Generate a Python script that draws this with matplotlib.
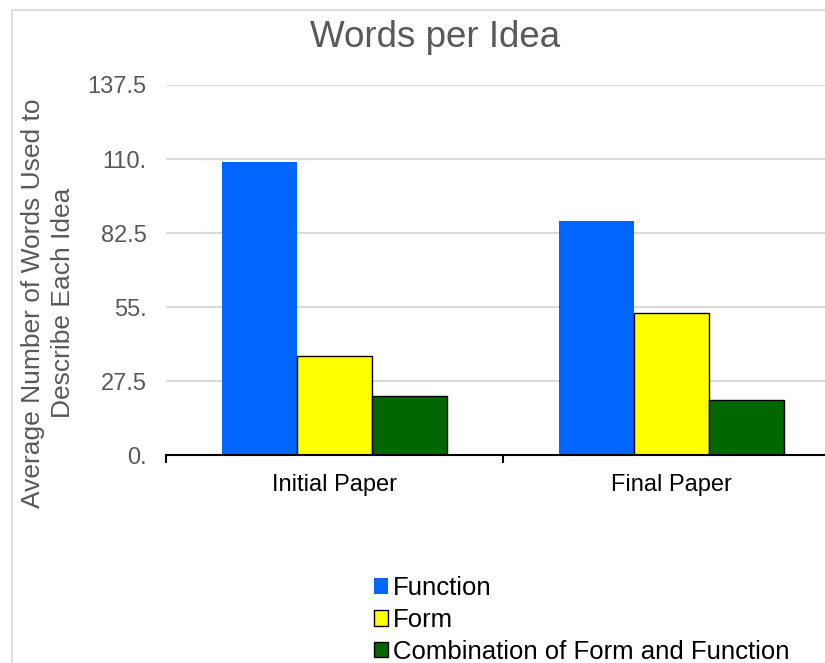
import matplotlib.pyplot as plt
import numpy as np
from matplotlib.patches import Rectangle

# Chart data
papers = ["Initial Paper", "Final Paper"]
function_words = [109.0, 86.8]
form_words = [36.8, 52.7]
combo_words = [21.9, 20.6]
series_names = ["Function", "Form", "Combination of Form and Function"]
y_ticks = [0, 27.5, 55, 82.5, 110, 137.5]
y_tick_labels = ["0.", "27.5", "55.", "82.5", "110.", "137.5"]

plt.rcParams['font.family'] = ['Liberation Sans', 'DejaVu Sans']

grey = '#595959'
fig = plt.figure(figsize=(8.25, 6.63), dpi=100)

# light frame around the chart
fig.patches.append(Rectangle((12 / 825, -0.2), 1.2, 0.2 + (663 - 9.5) / 663,
                             transform=fig.transFigure, fill=False,
                             edgecolor='#D9D9D9', linewidth=1.2))

ax = fig.add_axes([166 / 825, 0.3137, 674 / 825, 0.5581])

x = np.arange(len(papers))
w = 0.2225
ax.bar(x - w, function_words, w, color='#0066FF', label=series_names[0], zorder=3)
ax.bar(x, form_words, w, color='#FFFF00', edgecolor='black', linewidth=1.0,
       label=series_names[1], zorder=3)
ax.bar(x + w, combo_words, w, color='#006600', edgecolor='black', linewidth=1.0,
       label=series_names[2], zorder=3)

ax.set_xlim(-0.5, 1.5)
ax.set_ylim(0, 137.5)
ax.set_yticks(y_ticks)
ax.set_yticklabels(y_tick_labels)
ax.tick_params(axis='y', length=0, pad=14, labelsize=17, labelcolor=grey)
ax.set_xticks(x)
ax.set_xticklabels(papers)
ax.set_xticks([-0.5, 0.5, 1.5], minor=True)
ax.tick_params(axis='x', which='major', length=0, pad=14, labelsize=17)
ax.tick_params(axis='x', which='minor', length=6, width=1.5, direction='out')

ax.grid(axis='y', color='#D9D9D9', linewidth=1.5, zorder=0)
ax.set_axisbelow(True)
for side in ['left', 'right', 'top']:
    ax.spines[side].set_visible(False)
ax.spines['bottom'].set_linewidth(1.5)
ax.spines['bottom'].set_zorder(4)

fig.text(0.527, (663 - 47) / 663, "Words per Idea", ha='center', va='baseline',
         fontsize=26.5, color=grey)
fig.text(48 / 825, (663 - 303) / 663,
         "Average Number of Words Used to\nDescribe Each Idea",
         rotation=90, ha='center', va='center', multialignment='center',
         fontsize=19, color=grey, linespacing=1.35)

fig.legend(loc='center left', bbox_to_anchor=(374 / 825, (663 - 620) / 663),
           frameon=False, fontsize=18.5, handlelength=0.55, handleheight=0.55,
           handletextpad=0.18, labelspacing=0.3, borderpad=0, borderaxespad=0)

fig.savefig('out.png', dpi=100)
